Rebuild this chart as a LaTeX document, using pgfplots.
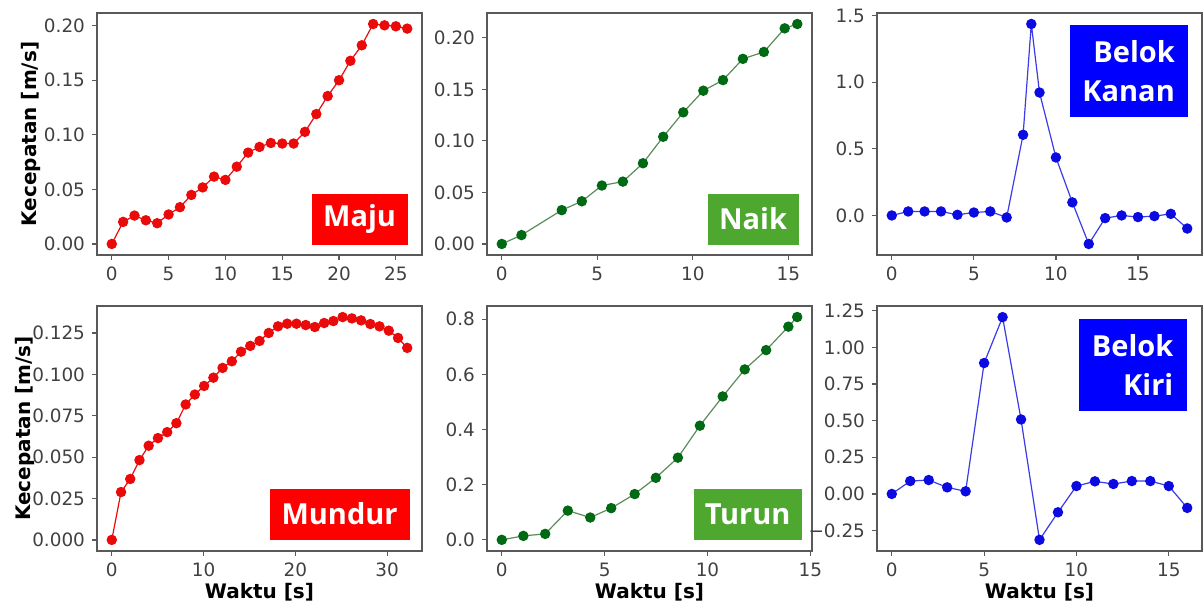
\documentclass[border=0pt]{standalone}
\usepackage{fontspec}
\setmainfont{DejaVu Sans}
\newfontfamily\boxfont{Open Sans}
\usepackage{pgfplots}
\pgfplotsset{compat=1.18}
\definecolor{boxgreen}{RGB}{78,167,46}
\definecolor{mkgreen}{RGB}{0,105,20}
\definecolor{lngreen}{RGB}{90,140,90}
\definecolor{mkred}{RGB}{235,10,10}
\definecolor{mkblue}{RGB}{10,10,225}
\tikzset{
  tag/.style={fill=#1, text=white, font=\boxfont\bfseries\fontsize{14.5}{19.5}\selectfont, inner sep=0pt, align=right},
}
\pgfplotsset{
  panel/.style={
    scale only axis, width=162.5pt,
    axis line style={black!65, line width=0.6pt},
    tick align=outside, major tick length=2.5pt,
    tick style={black!65, line width=0.6pt},
    xtick pos=bottom, ytick pos=left,
    ticklabel style={font=\fontsize{9.2}{11}\selectfont, text=black!75},
    /pgf/number format/assume math mode=true,
    label style={font=\bfseries\fontsize{10}{12}\selectfont},
    xlabel style={at={(axis description cs:0.5,0)}, anchor=center, yshift=-20.5pt},
    ylabel style={at={(axis description cs:0,0.5)}, anchor=center, yshift=33pt},
  },
  redp/.style={color=mkred, line width=0.6pt, mark=*, mark size=2.3pt, mark options={fill=mkred, draw=mkred}},
  greenp/.style={color=lngreen, line width=0.6pt, mark=*, mark size=2.3pt, mark options={fill=mkgreen, draw=mkgreen}},
  bluep/.style={color=mkblue!80!white, line width=0.6pt, mark=*, mark size=2.3pt, mark options={fill=mkblue, draw=mkblue}},
}
\begin{document}
\begin{tikzpicture}
\path[use as bounding box] (0,0) rectangle (601.5pt,301.5pt);

% ---------- Maju ----------
\begin{axis}[panel, at={(48.5pt,174pt)}, anchor=south west, height=121pt,
  xmin=-1.3, xmax=27.3, ymin=-0.0101, ymax=0.2116,
  xtick={0,5,10,15,20,25}, xticklabels={0,5,10,15,20,25},
  ytick={0,0.05,0.10,0.15,0.20}, yticklabels={0.00,0.05,0.10,0.15,0.20},
  ylabel={Kecepatan [m/s]}]
\addplot[redp] coordinates {
(0,0.000) (1,0.0202) (2,0.026) (3,0.0217) (4,0.019) (5,0.027) (6,0.0337)
(7,0.0449) (8,0.0518) (9,0.0617) (10,0.0587) (11,0.0708) (12,0.0837)
(13,0.0889) (14,0.0925) (15,0.092) (16,0.092) (17,0.1027) (18,0.119)
(19,0.1355) (20,0.150) (21,0.1678) (22,0.182) (23,0.2015) (24,0.2003)
(25,0.1994) (26,0.1973)};
\node[tag=red, minimum width=48pt, minimum height=25.5pt, anchor=south east, xshift=-7pt, yshift=5pt] at (rel axis cs:1,0) {Maju};
\end{axis}

% ---------- Naik ----------
\begin{axis}[panel, at={(243.5pt,174pt)}, anchor=south west, height=121pt,
  xmin=-0.774, xmax=16.24, ymin=-0.0107, ymax=0.2241,
  xtick={0,5,10,15}, xticklabels={0,5,10,15},
  ytick={0,0.05,0.10,0.15,0.20}, yticklabels={0.00,0.05,0.10,0.15,0.20}]
\addplot[greenp] coordinates {
(0,0) (1.03,0.0086) (3.14,0.0328) (4.19,0.0414) (5.24,0.0567) (6.34,0.0605)
(7.39,0.0783) (8.45,0.104) (9.5,0.1277) (10.55,0.1487) (11.58,0.159)
(12.62,0.1796) (13.72,0.1863) (14.81,0.2092) (15.47,0.2134)};
\node[tag=boxgreen, minimum width=45.5pt, minimum height=25.5pt, anchor=south east, xshift=-6.5pt, yshift=5pt] at (rel axis cs:1,0) {Naik};
\end{axis}

% ---------- Belok Kanan ----------
\begin{axis}[panel, at={(438.5pt,174pt)}, anchor=south west, height=121pt,
  xmin=-0.9, xmax=18.9, ymin=-0.2965, ymax=1.5185,
  xtick={0,5,10,15}, xticklabels={0,5,10,15},
  ytick={0,0.5,1.0,1.5}, yticklabels={0.0,0.5,1.0,1.5}]
\addplot[bluep] coordinates {
(0,0) (1,0.03) (2,0.03) (3,0.03) (4,0.005) (5,0.022) (6,0.03) (7,-0.015)
(8,0.605) (8.5,1.436) (9,0.922) (10,0.435) (11,0.098) (12,-0.214)
(13,-0.02) (14,0) (15,-0.012) (16,-0.005) (17,0.012) (18,-0.098)};
\node[tag=blue, minimum width=59pt, minimum height=46pt, anchor=north east, xshift=-7pt, yshift=-6pt] at (rel axis cs:1,1) {Belok\\Kanan};
\end{axis}

% ---------- Mundur ----------
\begin{axis}[panel, at={(48.5pt,26pt)}, anchor=south west, height=122.5pt,
  xmin=-1.61, xmax=33.8, ymin=-0.0067, ymax=0.1413,
  xtick={0,10,20,30}, xticklabels={0,10,20,30},
  ytick={0,0.025,0.05,0.075,0.1,0.125}, yticklabels={0.000,0.025,0.050,0.075,0.100,0.125},
  ylabel={Kecepatan [m/s]}, xlabel={Waktu [s]},
  ylabel style={yshift=3pt}]
\addplot[redp] coordinates {
(0,0) (1.01,0.0289) (2.01,0.0368) (3.02,0.0482) (4.02,0.0569) (5.03,0.0615)
(6.04,0.0651) (7.04,0.0705) (8.05,0.0818) (9.05,0.0878) (10.06,0.093)
(11.07,0.098) (12.07,0.1039) (13.08,0.1079) (14.08,0.1137) (15.09,0.1172)
(16.1,0.1202) (17.1,0.125) (18.11,0.129) (19.11,0.1306) (20.12,0.1306)
(21.13,0.1298) (22.13,0.1286) (23.14,0.131) (24.14,0.1322) (25.15,0.1346)
(26.16,0.1338) (27.16,0.1326) (28.17,0.1304) (29.17,0.129) (30.18,0.1264)
(31.19,0.122) (32.19,0.116)};
\node[tag=red, minimum width=70pt, minimum height=25.5pt, anchor=south east, xshift=-6pt, yshift=5.5pt] at (rel axis cs:1,0) {Mundur};
\end{axis}

% ---------- Turun ----------
\begin{axis}[panel, at={(243.5pt,26pt)}, anchor=south west, height=122.5pt,
  xmin=-0.718, xmax=15.08, ymin=-0.0404, ymax=0.848,
  xtick={0,5,10,15}, xticklabels={0,5,10,15},
  ytick={0,0.2,0.4,0.6,0.8}, yticklabels={0.0,0.2,0.4,0.6,0.8},
  xlabel={Waktu [s]}]
\addplot[greenp] coordinates {
(0,0) (1.05,0.0144) (2.11,0.0216) (3.21,0.106) (4.30,0.081) (5.32,0.115)
(6.46,0.166) (7.49,0.225) (8.56,0.298) (9.63,0.414) (10.74,0.52)
(11.81,0.618) (12.85,0.688) (13.93,0.773) (14.36,0.808)};
\node[tag=boxgreen, minimum width=54pt, minimum height=25.5pt, anchor=south east, xshift=-5pt, yshift=5.5pt] at (rel axis cs:1,0) {Turun};
\end{axis}

% ---------- Belok Kiri ----------
\begin{axis}[panel, at={(438.5pt,26pt)}, anchor=south west, height=122.5pt,
  xmin=-0.8, xmax=16.8, ymin=-0.389, ymax=1.282,
  xtick={0,5,10,15}, xticklabels={0,5,10,15},
  ytick={-0.25,0,0.25,0.5,0.75,1.0,1.25}, yticklabels={−0.25,0.00,0.25,0.50,0.75,1.00,1.25},
  xlabel={Waktu [s]}]
\addplot[bluep] coordinates {
(0,0) (1,0.088) (2,0.095) (3,0.045) (4,0.018) (5,0.893) (6,1.206) (7,0.508)
(8,-0.313) (9,-0.125) (10,0.054) (11,0.086) (12,0.068) (13,0.088)
(14,0.088) (15,0.054) (16,-0.095)};
\node[tag=blue, minimum width=54pt, minimum height=46pt, anchor=north east, xshift=-7.5pt, yshift=-6.5pt] at (rel axis cs:1,1) {Belok\\Kiri};
\end{axis}
\end{tikzpicture}
\end{document}
